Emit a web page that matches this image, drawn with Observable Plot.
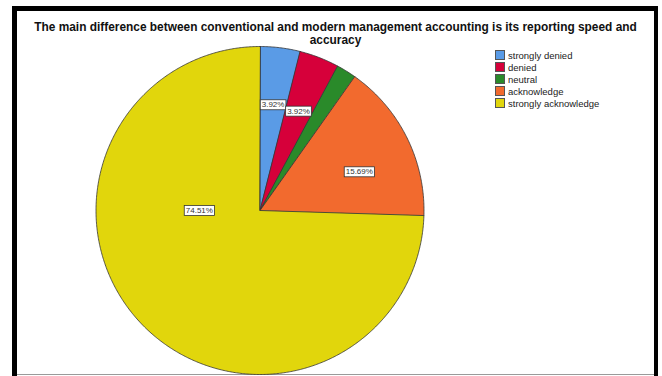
<!DOCTYPE html>
<html>
<head>
<meta charset="utf-8">
<script src="https://cdn.jsdelivr.net/npm/d3@7"></script>
<script src="https://cdn.jsdelivr.net/npm/@observablehq/plot@0.6"></script>
<style>
  html, body { margin: 0; padding: 0; background: #fff; }
  body { width: 662px; height: 376px; overflow: hidden; position: relative; font-family: "Liberation Sans", Arial, sans-serif; }
  #frame { position: absolute; left: 12px; top: 6px; width: 637px; height: 400px;
           border-top: 5px solid #000; border-left: 5px solid #000; border-right: 4px solid #000; }
  #bottomline { position: absolute; left: 17px; top: 374px; width: 637px; height: 1px; background: #9a9a9a; }
  #title { position: absolute; left: 17px; width: 637px; top: 21px; text-align: center;
           font-weight: bold; font-size: 11.9px; line-height: 13px; color: #111; }
  #chart { position: absolute; left: 0; top: 0; }
  #legend { position: absolute; left: 495px; top: 49px; font-size: 9.5px; color: #222; }
  .row { height: 12px; display: flex; align-items: center; }
  .sw { width: 8px; height: 8px; border: 1px solid #555; margin-right: 3px; box-sizing: content-box; }
</style>
</head>
<body>
<div id="frame"></div>
<div id="bottomline"></div>
<div id="title">The main difference between conventional and modern management accounting is its reporting speed and<br>accuracy</div>
<div id="chart"></div>
<div id="legend"></div>
<script>
const categories = ["strongly denied", "denied", "neutral", "acknowledge", "strongly acknowledge"];
const percents = [3.92, 3.92, 1.96, 15.69, 74.51];
const labels = ["3.92%", "3.92%", "", "15.69%", "74.51%"];
const colors = ["#5A9BE6", "#D6003A", "#2A8A2A", "#F26A2E", "#E1D60C"];

// slice polygons in unit-circle data space (clockwise from 12 o'clock)
const total = d3.sum(percents);
const pts = [];
const labelData = [];
let cum = 0;
categories.forEach((cat, i) => {
  const a0 = cum / total * 2 * Math.PI;
  const a1 = (cum + percents[i]) / total * 2 * Math.PI;
  cum += percents[i];
  pts.push({cat, x: 0, y: 0});
  const n = Math.max(2, Math.ceil((a1 - a0) / (Math.PI / 360)));
  for (let k = 0; k <= n; k++) {
    const a = a0 + (a1 - a0) * k / n;
    pts.push({cat, x: Math.sin(a), y: Math.cos(a)});
  }
  if (labels[i]) {
    let am = (a0 + a1) / 2, r = 0.65;
    if (percents[i] / total > 0.5) { am = 1.5 * Math.PI; r = 0.37; }
    else if (i === 3) { am += 0.09; }
    labelData.push({text: labels[i], x: r * Math.sin(am), y: r * Math.cos(am)});
  }
});

const R = 164, cx = 259.5, cy = 210;
const plot = Plot.plot({
  width: 662, height: 376,
  marginLeft: cx - R, marginRight: 662 - cx - R,
  marginTop: cy - R, marginBottom: 376 - cy - R,
  x: {domain: [-1, 1], axis: null},
  y: {domain: [-1, 1], axis: null},
  color: {type: "ordinal", domain: categories, range: colors},
  style: {fontFamily: "'Liberation Sans', Arial, sans-serif", background: "transparent"},
  marks: [
    Plot.line(pts, {x: "x", y: "y", z: "cat", fill: "cat", stroke: "#333", strokeWidth: 0.8, curve: "linear-closed"}),
    Plot.text(labelData, {x: "x", y: "y", text: "text", fontSize: 8, fill: "#333"})
  ]
});
document.getElementById("chart").appendChild(plot);

// white boxes behind labels
const tg = plot.querySelector('g[aria-label="text"]');
if (tg) {
  tg.querySelectorAll("text").forEach(t => {
    const b = t.getBBox();
    const rect = document.createElementNS("http://www.w3.org/2000/svg", "rect");
    rect.setAttribute("x", b.x - 1.5);
    rect.setAttribute("y", b.y - 0.5);
    rect.setAttribute("width", b.width + 3);
    rect.setAttribute("height", b.height + 1);
    rect.setAttribute("fill", "#fff");
    rect.setAttribute("stroke", "#333");
    rect.setAttribute("stroke-width", "0.8");
    if (t.getAttribute("transform")) rect.setAttribute("transform", t.getAttribute("transform"));
    tg.insertBefore(rect, t);
  });
}

// legend
const lg = document.getElementById("legend");
categories.forEach((c, i) => {
  const row = document.createElement("div");
  row.className = "row";
  const sw = document.createElement("div");
  sw.className = "sw";
  sw.style.background = colors[i];
  const tx = document.createElement("span");
  tx.textContent = c;
  row.appendChild(sw); row.appendChild(tx);
  lg.appendChild(row);
});
</script>
</body>
</html>
